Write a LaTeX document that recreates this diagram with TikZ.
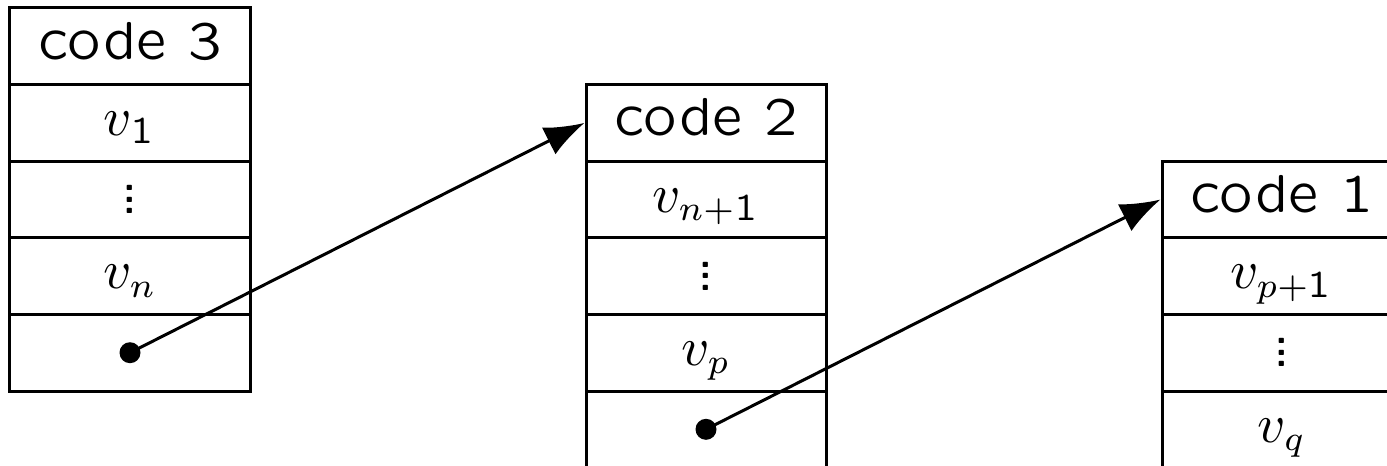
\documentclass[tikz,border=0pt]{standalone}
\usepackage{amsmath}
\usepackage{fontspec}
\usetikzlibrary{arrows.meta}
\newfontfamily\qsfam{Latin Modern Sans Quotation}
\newcommand\qsfont{\qsfam\fontsize{10.7}{12.8}\selectfont}
\newcommand\qs[1]{\text{\qsfam #1}}
\newcommand\sfvdots{\vbox{\baselineskip=2.3pt\lineskiplimit=-10pt\hbox{.}\hbox{.}\hbox{.}}}
\begin{document}
\begin{tikzpicture}[x=0.2pt,y=-0.2pt,
  cell/.style={draw, line width=0.6pt, minimum width=48pt, minimum height=15.32pt,
    inner sep=0pt, text height=7.5pt, text depth=2.42pt, font=\qsfont},
  dotcell/.style={draw, line width=0.6pt, minimum width=48pt, minimum height=15.32pt,
    inner sep=0pt, font=\qsfont},
  ptr/.style={circle, fill, inner sep=0pt, minimum size=4.2pt},
  link/.style={line width=0.6pt, -{Latex[length=8pt,width=6pt]}}]
\clip (0,0) rectangle (1387,466);
% left stack
\node[cell] (a0) at (130,46.3) {code 3};
\node[cell] (a1) at (130,122.9) {$v_{\qs{1}}$};
\node[dotcell] (a2) at (130,199.5) {\sfvdots};
\node[cell] (a3) at (130,276.1) {$v_n$};
\node[cell] (a4) at (130,352.7) {};
\node[ptr] (pa) at (a4.center) {};
% middle stack
\node[cell] (b0) at (706,122.9) {code 2};
\node[cell] (b1) at (706,199.5) {$v_{n+\qs{1}}$};
\node[dotcell] (b2) at (706,276.1) {\sfvdots};
\node[cell] (b3) at (706,352.7) {$v_p$};
\node[cell] (b4) at (706,429.3) {};
\node[ptr] (pb) at (b4.center) {};
% right stack
\node[cell] (c0) at (1282,199.5) {code 1};
\node[cell] (c1) at (1282,276.1) {$v_{p+\qs{1}}$};
\node[dotcell] (c2) at (1282,352.7) {\sfvdots};
\node[cell] (c3) at (1282,429.3) {$v_q$};
% links
\draw[link] (pa.center) -- (b0.west);
\draw[link] (pb.center) -- (c0.west);
\end{tikzpicture}
\end{document}
